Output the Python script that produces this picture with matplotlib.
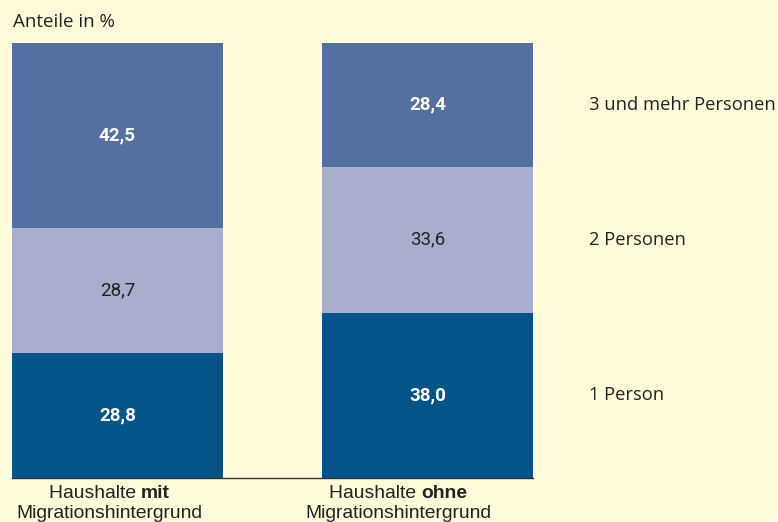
import numpy as np
import matplotlib.pyplot as plt

groups = ["mit", "ohne"]
segments = ["1 Person", "2 Personen", "3 und mehr Personen"]
werte_mit = [28.8, 28.7, 42.5]
werte_ohne = [38.0, 33.6, 28.4]
farben = ["#04548a", "#a8aecb", "#5470a0"]
textfarben = ["white", "#222222", "white"]
textgewicht = ["bold", "normal", "bold"]

bg = "#fffcdc"
W, H = 778, 522
fig = plt.figure(figsize=(W / 100, H / 100), dpi=100, facecolor=bg)
ax = fig.add_axes([12 / W, (H - 478) / H, (533 - 12) / W, 435 / H])
ax.set_facecolor(bg)

data = np.array([werte_mit, werte_ohne])
x = np.arange(len(groups))
breite = 0.68
unten = np.zeros(len(groups))
for i, seg in enumerate(segments):
    ax.bar(x, data[:, i], breite, bottom=unten, color=farben[i], linewidth=0)
    for j in range(len(groups)):
        ax.text(x[j], unten[j] + data[j, i] / 2, f"{data[j, i]:.1f}".replace(".", ","),
                ha="center", va="center", color=textfarben[i], fontsize=13.5,
                fontweight=textgewicht[i], family="Roboto")
    # Legende rechts neben dem zweiten Balken
    ax.text(x[-1] + 0.519, unten[-1] + data[-1, i] / 2, seg, ha="left", va="center",
            fontsize=13.2, color="#222222", family="Open Sans", clip_on=False)
    unten += data[:, i]

ax.set_xlim(-breite / 2, 1 + breite / 2)
ax.set_ylim(0, 100)
for s in ["top", "left", "right"]:
    ax.spines[s].set_visible(False)
ax.spines["bottom"].set_color("#333333")
ax.spines["bottom"].set_linewidth(1)
ax.set_xticks([])
ax.set_yticks([])

fig.text(13 / W, 1 - 22 / H, "Anteile in %", ha="left", va="center",
         fontsize=13.5, color="#222222", family="Open Sans")

# Kategorienbeschriftung mit fettem Wort (im Original etwas nach links versetzt)
versatz = [-8, -29]
fig.canvas.draw()
r = fig.canvas.get_renderer()
for j, g in enumerate(groups):
    xc = ax.transData.transform((x[j], 0))[0] + versatz[j]
    t1 = fig.text(0, 0, "Haushalte ", fontsize=13.9, family="Liberation Sans", color="#222222")
    t2 = fig.text(0, 0, g, fontsize=13.9, family="Liberation Sans", fontweight="bold", color="#222222")
    w1 = t1.get_window_extent(r).width
    w2 = t2.get_window_extent(r).width
    x0 = xc - (w1 + w2) / 2
    t1.set_position((x0 / W, 1 - 494 / H))
    t1.set_va("center")
    t2.set_position(((x0 + w1) / W, 1 - 494 / H))
    t2.set_va("center")
    fig.text(xc / W, 1 - 513 / H, "Migrationshintergrund", ha="center", va="center",
             fontsize=13.9, family="Liberation Sans", color="#222222")

plt.savefig("out.png", dpi=100, facecolor=bg)
